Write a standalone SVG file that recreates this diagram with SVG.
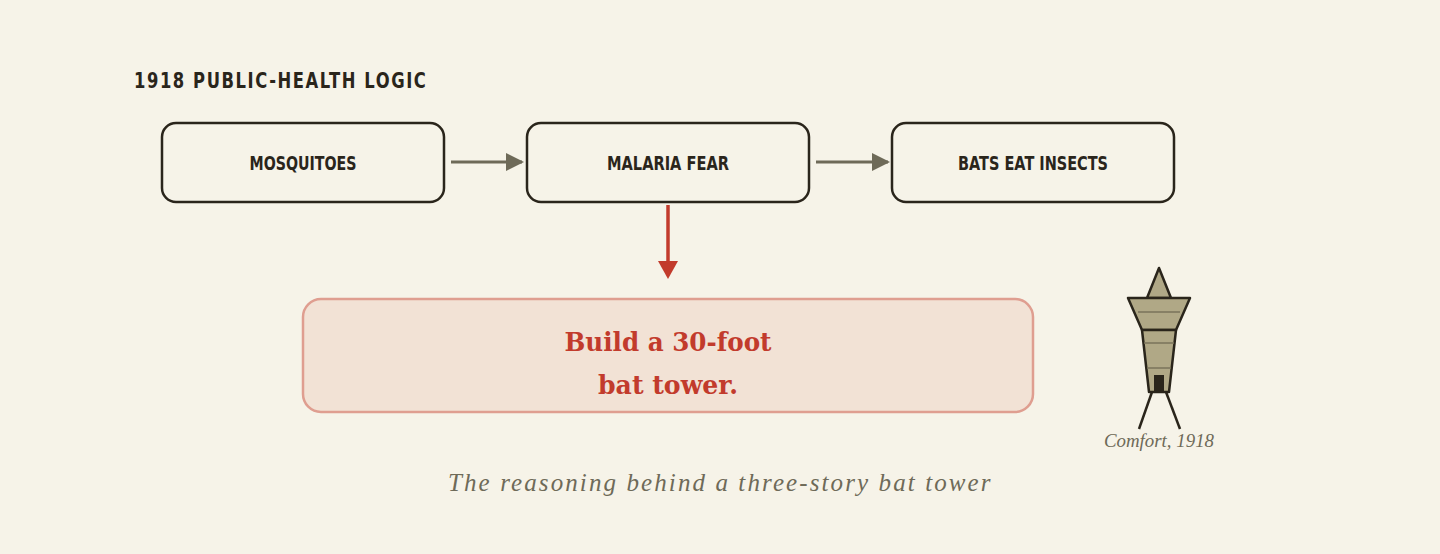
<svg xmlns="http://www.w3.org/2000/svg" width="1440" height="554" viewBox="0 0 1440 554">
<style>
.box{fill:#f6f3e8;stroke:#2a251b;stroke-width:2.5}
.lbl{font-family:"DejaVu Sans",sans-serif;font-weight:bold;font-size:20px;fill:#2a251b;text-anchor:middle}
.t{fill:#b0a886;stroke:#2a251b;stroke-width:2.5;stroke-linejoin:round}
</style>
<defs>
<marker id="ag" markerWidth="18" markerHeight="18" refX="16" refY="9" orient="auto" markerUnits="userSpaceOnUse" viewBox="0 0 18 18"><path d="M0,0 L18,9 L0,18 Z" fill="#6e6a58"/></marker>
</defs>
<rect width="1440" height="554" fill="#f6f3e8"/>
<text transform="translate(134,88) scale(0.78,1)" x="0" y="0" font-family="DejaVu Sans,sans-serif" font-weight="bold" font-size="21" letter-spacing="2" fill="#2a251b">1918 PUBLIC-HEALTH LOGIC</text>
<g id="connectors">
<line x1="451" y1="162" x2="522" y2="162" stroke="#6e6a58" stroke-width="3" marker-end="url(#ag)"/>
<line x1="816" y1="162" x2="888" y2="162" stroke="#6e6a58" stroke-width="3" marker-end="url(#ag)"/>
<line x1="668" y1="205" x2="668" y2="262" stroke="#c23b2c" stroke-width="3.5"/>
<path d="M658,261 L678,261 L668,279 Z" fill="#c23b2c"/>
</g>
<g id="mosquitoes"><rect class="box" x="162" y="123" width="282" height="79" rx="14"/><text class="lbl" x="303" y="170" textLength="107" lengthAdjust="spacingAndGlyphs">MOSQUITOES</text></g>
<g id="malaria"><rect class="box" x="527" y="123" width="282" height="79" rx="14"/><text class="lbl" x="668" y="170" textLength="122" lengthAdjust="spacingAndGlyphs">MALARIA FEAR</text></g>
<g id="bats"><rect class="box" x="892" y="123" width="282" height="79" rx="14"/><text class="lbl" x="1033" y="170" textLength="150" lengthAdjust="spacingAndGlyphs">BATS EAT INSECTS</text></g>
<g id="tower-box"><rect x="303" y="299" width="730" height="113" rx="18" fill="#f2e2d5" stroke="#df9e90" stroke-width="2.5"/>
<text font-family="DejaVu Serif,serif" font-weight="bold" font-size="26" fill="#c23b2c" text-anchor="middle"><tspan x="668" y="351" textLength="207" lengthAdjust="spacingAndGlyphs">Build a 30-foot</tspan><tspan x="668" y="394" textLength="140" lengthAdjust="spacingAndGlyphs">bat tower.</tspan></text></g>
<g id="tower-icon">
<path class="t" d="M1147,298 L1159,268 L1171,298 Z"/>
<path class="t" d="M1128,298 L1190,298 L1176,330 L1142,330 Z"/>
<path class="t" d="M1142,330 L1176,330 L1169,392 L1149,392 Z"/>
<line x1="1138" y1="312" x2="1180" y2="312" stroke="#7a735a" stroke-width="1.5"/>
<line x1="1144" y1="343" x2="1174" y2="343" stroke="#7a735a" stroke-width="1.5"/>
<line x1="1147" y1="368" x2="1171" y2="368" stroke="#7a735a" stroke-width="1.5"/>
<rect x="1154" y="375" width="10" height="17" fill="#2a251b"/>
<line x1="1152" y1="392" x2="1139" y2="429" stroke="#2a251b" stroke-width="2.5"/>
<line x1="1166" y1="392" x2="1180" y2="429" stroke="#2a251b" stroke-width="2.5"/>
<text x="1159" y="447" font-family="Liberation Serif,serif" font-style="italic" font-size="18" textLength="110" lengthAdjust="spacingAndGlyphs" fill="#6e6a58" text-anchor="middle">Comfort, 1918</text>
</g>
<text x="720" y="491" font-family="Liberation Serif,serif" font-style="italic" font-size="25" textLength="544" letter-spacing="1.5" fill="#6e6a58" text-anchor="middle">The reasoning behind a three-story bat tower</text>
</svg>
